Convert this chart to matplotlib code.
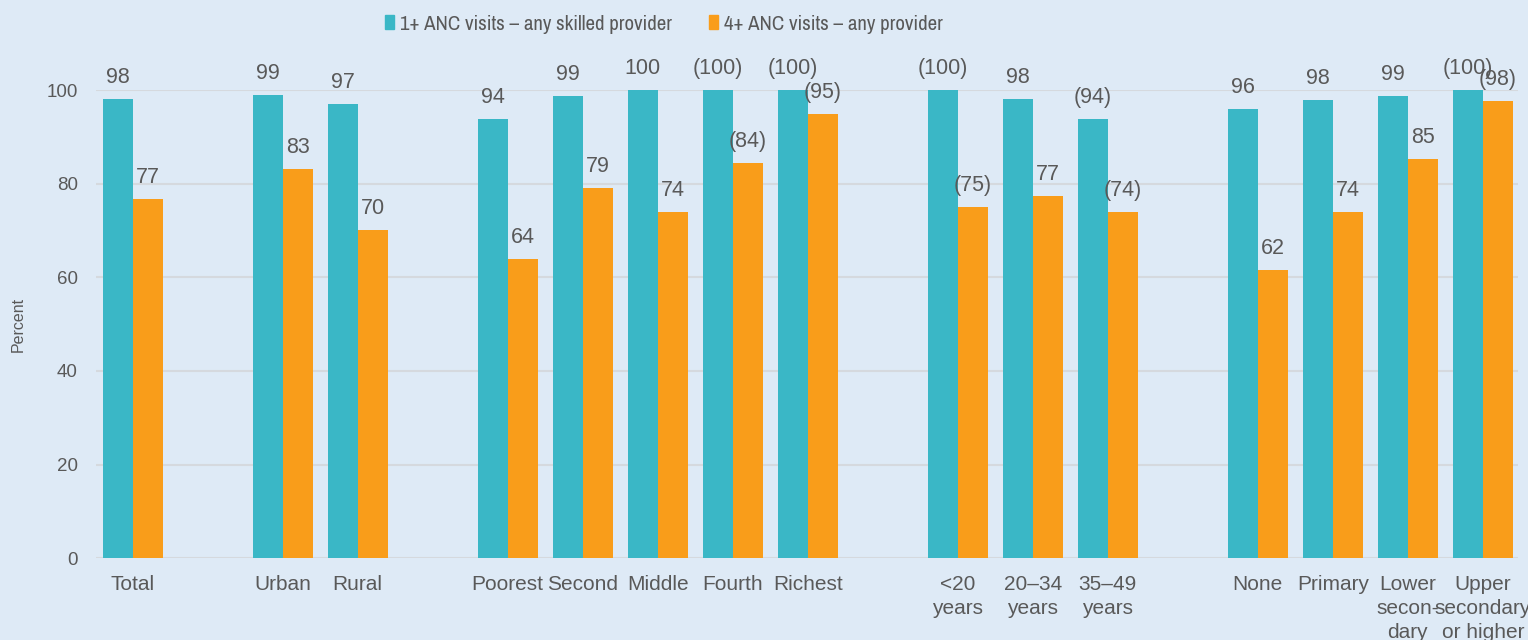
import matplotlib
matplotlib.use("Agg")
import matplotlib.pyplot as plt
from matplotlib.patches import Patch

categories = ["Total", "Urban", "Rural", "Poorest", "Second", "Middle", "Fourth", "Richest",
              "<20\nyears", "20–34\nyears", "35–49\nyears", "None", "Primary",
              "Lower\nsecon-\ndary", "Upper\nsecondary\nor higher"]
positions = [0, 2, 3, 5, 6, 7, 8, 9, 11, 12, 13, 15, 16, 17, 18]
anc1_skilled = [98.1, 98.9, 97.0, 93.8, 98.7, 100.0, 100.0, 100.0, 100.0, 98.1, 93.8, 95.9, 97.9, 98.7, 100.0]
anc4_any = [76.7, 83.1, 70.1, 63.9, 79.1, 73.9, 84.4, 94.9, 75.0, 77.4, 73.9, 61.5, 73.9, 85.3, 97.6]
anc1_labels = ["98", "99", "97", "94", "99", "100", "(100)", "(100)", "(100)", "98", "(94)", "96", "98", "99", "(100)"]
anc4_labels = ["77", "83", "70", "64", "79", "74", "(84)", "(95)", "(75)", "77", "(74)", "62", "74", "85", "(98)"]
series_names = ["1+ ANC visits – any skilled provider", "4+ ANC visits – any provider"]

teal = "#3ab7c6"
orange = "#f99d1a"
bg = "#deeaf6"
txt = "#595959"
fam = ["Liberation Sans", "DejaVu Sans"]
fam_leg = ["Archivo Narrow", "Roboto Condensed", "Liberation Sans", "DejaVu Sans"]

fig = plt.figure(figsize=(15.28, 6.4), dpi=100, facecolor=bg)
ax = fig.add_axes([0.0628, 0.128, 0.9307, 0.731])
ax.set_facecolor(bg)

w = 0.4
x1 = [p - w / 2 for p in positions]
x2 = [p + w / 2 for p in positions]
ax.bar(x1, anc1_skilled, width=w, color=teal, zorder=3)
ax.bar(x2, anc4_any, width=w, color=orange, zorder=3)

for x, v, s in zip(x1, anc1_skilled, anc1_labels):
    ax.annotate(s, (x, v), xytext=(0, 8), textcoords="offset points", ha="center", va="bottom",
                fontsize=15.5, color=txt, family=fam, annotation_clip=False)
for x, v, s in zip(x2, anc4_any, anc4_labels):
    ax.annotate(s, (x, v), xytext=(0, 8), textcoords="offset points", ha="center", va="bottom",
                fontsize=15.5, color=txt, family=fam, annotation_clip=False)

ax.set_ylim(0, 100)
ax.set_xlim(-0.49, 18.47)
ax.set_yticks([0, 20, 40, 60, 80, 100])
ax.set_xticks(positions)
ax.set_xticklabels(categories, fontsize=15, color=txt, family=fam, linespacing=1.33)
for lab in ax.get_yticklabels():
    lab.set_fontsize(13.5)
    lab.set_color(txt)
    lab.set_family(fam)
ax.tick_params(axis="y", length=0, pad=13)
ax.tick_params(axis="x", length=0, pad=12)
ax.grid(axis="y", color="#d5d9de", linewidth=1.5, zorder=0)
for sp in ax.spines.values():
    sp.set_visible(False)
ax.set_ylabel("Percent", fontsize=11.5, color=txt, labelpad=15, family=fam)

handles = [Patch(color=teal), Patch(color=orange)]
fig.legend(handles, series_names, loc="center left", bbox_to_anchor=(385 / 1528, 0.9625), ncol=2,
           frameon=False, borderpad=0, borderaxespad=0,
           prop={"family": fam_leg, "size": 15}, labelcolor=txt, handlelength=0.45, handleheight=0.62,
           handletextpad=0.25, columnspacing=1.8)

fig.savefig("out.png", dpi=100, facecolor=bg)
